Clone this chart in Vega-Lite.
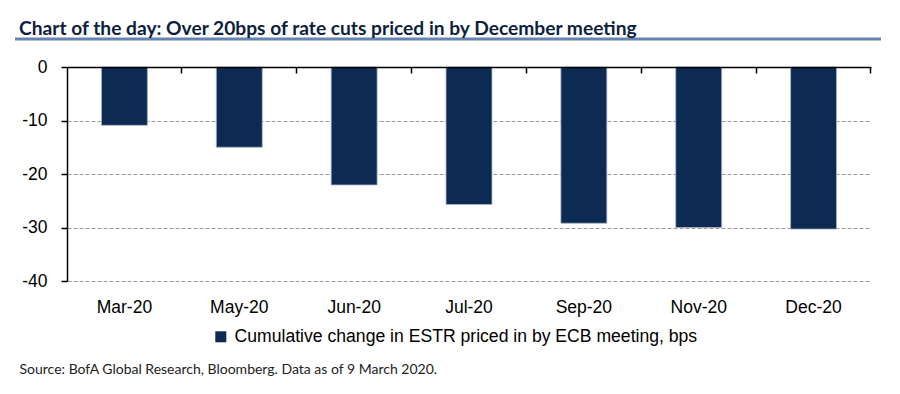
{
  "$schema": "https://vega.github.io/schema/vega-lite/v6.json",
  "background": "white",
  "padding": {"left": 13, "top": 19, "right": 0, "bottom": 0},
  "spacing": 17,
  "config": {"view": {"stroke": null}},
  "vconcat": [
    {
      "width": 804,
      "height": 2,
      "title": {
        "text": "Chart of the day: Over 20bps of rate cuts priced in by December meeting",
        "anchor": "start",
        "frame": "group",
        "font": "Lato",
        "fontSize": 19.2,
        "fontWeight": "bold",
        "color": "#0d1f3d",
        "offset": -2,
        "dx": -48
      },
      "data": {"values": [{"start": 0, "end": 1, "level": 0}]},
      "mark": {"type": "rule", "color": "#6684b0", "strokeWidth": 3},
      "encoding": {
        "x": {"field": "start", "type": "quantitative", "scale": {"domain": [0, 1], "range": [-52, 814]}, "axis": null},
        "x2": {"field": "end"},
        "y": {"field": "level", "type": "quantitative", "scale": {"domain": [0, 1]}, "axis": null}
      }
    },
    {
      "width": 804,
      "height": 214,
      "data": {
        "values": [
          {"meeting": "Mar-20", "change": -10.9, "series": "Cumulative change in ESTR priced in by ECB meeting, bps"},
          {"meeting": "May-20", "change": -15.0, "series": "Cumulative change in ESTR priced in by ECB meeting, bps"},
          {"meeting": "Jun-20", "change": -22.05, "series": "Cumulative change in ESTR priced in by ECB meeting, bps"},
          {"meeting": "Jul-20", "change": -25.7, "series": "Cumulative change in ESTR priced in by ECB meeting, bps"},
          {"meeting": "Sep-20", "change": -29.2, "series": "Cumulative change in ESTR priced in by ECB meeting, bps"},
          {"meeting": "Nov-20", "change": -30.0, "series": "Cumulative change in ESTR priced in by ECB meeting, bps"},
          {"meeting": "Dec-20", "change": -30.3, "series": "Cumulative change in ESTR priced in by ECB meeting, bps"}
        ]
      },
      "resolve": {"axis": {"x": "independent"}},
      "layer": [
        {
          "mark": {"type": "bar", "stroke": "#aab4c4", "strokeWidth": 0.8},
          "encoding": {
            "x": {
              "field": "meeting",
              "type": "nominal",
              "sort": null,
              "scale": {"type": "band", "paddingInner": 0.6, "paddingOuter": 0.3},
              "axis": {
                "orient": "bottom",
                "domain": false,
                "ticks": false,
                "labelAngle": 0,
                "labelFont": "Liberation Sans",
                "labelFontSize": 17.5,
                "labelColor": "#000000",
                "labelPadding": 17,
                "title": "Source: BofA Global Research, Bloomberg.  Data as of 9 March 2020.",
                "titleFont": "Lato",
                "titleFontSize": 14,
                "titleFontWeight": "normal",
                "titleColor": "#222222",
                "titleAnchor": "start",
                "titleAlign": "left",
                "titleBaseline": "middle",
                "titleX": -48,
                "titleY": 88
              }
            },
            "y": {
              "field": "change",
              "type": "quantitative",
              "scale": {"domain": [-40, 0], "nice": false},
              "axis": {
                "values": [-40, -30, -20, -10, 0],
                "labelExpr": "'' + datum.value",
                "title": null,
                "grid": true,
                "gridColor": "#999999",
                "gridDash": [4, 2],
                "gridWidth": 1,
                "domainColor": "#000000",
                "domainWidth": 1.5,
                "tickColor": "#000000",
                "tickWidth": 1.5,
                "tickSize": 6,
                "labelFont": "Liberation Sans",
                "labelFontSize": 17.5,
                "labelColor": "#000000",
                "labelPadding": 14
              }
            },
            "color": {
              "field": "series",
              "type": "nominal",
              "scale": {"range": ["#0c2a52"]},
              "legend": {
                "orient": "none",
                "legendX": 145,
                "legendY": 291,
                "title": null,
                "symbolType": "square",
                "symbolSize": 121,
                "symbolStrokeWidth": 0,
                "labelFont": "Liberation Sans",
                "labelFontSize": 17.6,
                "labelColor": "#000000",
                "labelOffset": 5,
                "labelLimit": 600
              }
            }
          }
        },
        {
          "mark": {"type": "bar", "opacity": 0},
          "encoding": {
            "x": {
              "field": "meeting",
              "type": "nominal",
              "sort": null,
              "axis": {
                "orient": "top",
                "labels": false,
                "title": null,
                "domain": true,
                "domainColor": "#000000",
                "domainWidth": 1.5,
                "ticks": true,
                "tickColor": "#000000",
                "tickWidth": 1.5,
                "tickSize": -6,
                "bandPosition": 1.75,
                "grid": false,
                "zindex": 1
              }
            },
            "y": {"field": "change", "type": "quantitative"}
          }
        }
      ]
    }
  ]
}
